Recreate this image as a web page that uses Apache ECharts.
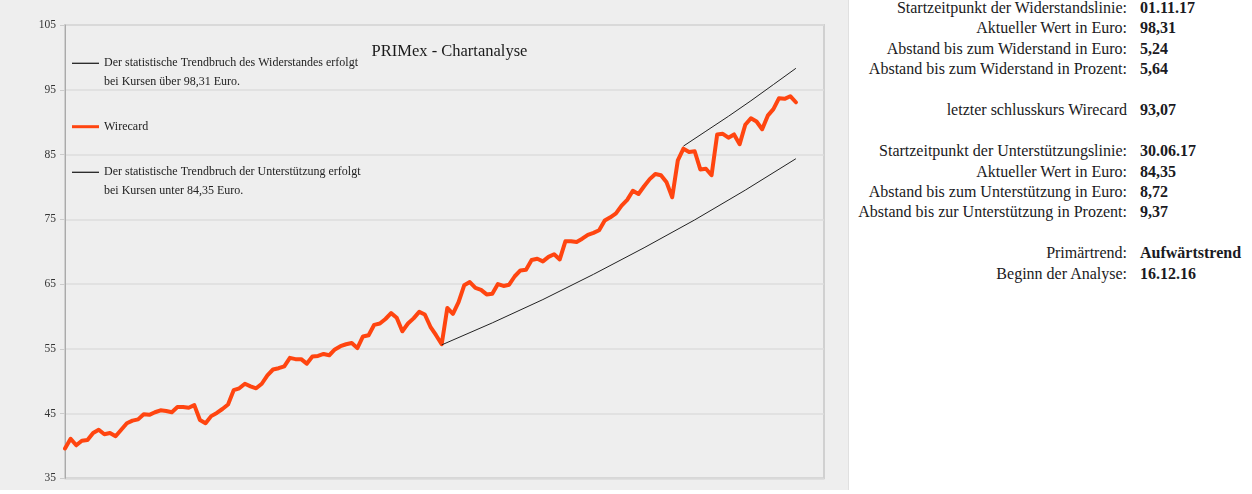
<!DOCTYPE html>
<html>
<head>
<meta charset="utf-8">
<script src="https://cdn.jsdelivr.net/npm/echarts@6/dist/echarts.min.js"></script>
<style>
  html, body { margin: 0; padding: 0; background: #ffffff; }
  #panel { position: absolute; left: 0; top: 0; width: 848px; height: 490px; background: #eeeeee; border-right: 1px solid #e0e0e0; }
  #chart { position: absolute; left: 0; top: 0; width: 848px; height: 490px; }
  #info { position: absolute; left: 850px; top: -2px; font-family: "Liberation Serif", serif; font-size: 16px; color: #1a1a22; }
  #info .row { display: flex; height: 20.45px; line-height: 20.45px; white-space: nowrap; }
  #info .lab { width: 277px; text-align: right; }
  #info .val { margin-left: 13px; font-weight: bold; }
</style>
</head>
<body>
<div id="panel"></div>
<div id="chart"></div>
<div id="info"></div>
<script>
// ---- data ----
const titleText = 'PRIMex - Chartanalyse';
const seriesNames = [
  'Der statistische Trendbruch des Widerstandes erfolgt\nbei Kursen über 98,31 Euro.',
  'Wirecard',
  'Der statistische Trendbruch der Unterstützung erfolgt\nbei Kursen unter 84,35 Euro.'
];
const categoryCount = 136;
const categories = Array.from({length: categoryCount}, (_, i) => String(i));
const yTicks = [35, 45, 55, 65, 75, 85, 95, 105];
const wirecard = [
  39.6, 41.1, 40.1, 40.8, 40.9, 42.0, 42.5, 41.8, 42.0, 41.5,
  42.5, 43.5, 43.9, 44.1, 44.9, 44.8, 45.2, 45.5, 45.4, 45.2,
  46.0, 46.0, 45.9, 46.3, 44.0, 43.5, 44.6, 45.1, 45.7, 46.4,
  48.6, 48.9, 49.6, 49.2, 48.9, 49.6, 50.9, 51.8, 52.0, 52.3,
  53.6, 53.4, 53.4, 52.7, 53.8, 53.9, 54.2, 54.0, 54.9, 55.4,
  55.7, 55.9, 55.1, 56.9, 57.1, 58.7, 58.9, 59.6, 60.5, 59.8,
  57.7, 58.9, 59.7, 60.7, 60.3, 58.4, 57.1, 55.7, 61.3, 60.4,
  62.2, 64.8, 65.3, 64.4, 64.1, 63.4, 63.5, 65.0, 64.7, 64.9,
  66.2, 67.1, 67.2, 68.7, 68.9, 68.5, 69.2, 69.6, 68.8, 71.6,
  71.6, 71.5, 72.0, 72.6, 72.9, 73.3, 74.8, 75.3, 75.9, 77.1,
  78.0, 79.4, 78.9, 80.1, 81.2, 82.0, 81.8, 80.7, 78.4, 84.1,
  85.9, 85.4, 85.5, 82.7, 82.8, 81.8, 88.1, 88.2, 87.6, 88.1,
  86.6, 89.6, 90.6, 90.1, 88.9, 91.0, 92.0, 93.7, 93.6, 94.0,
  93.07
];
const resistanceIdx = [110, 114, 118, 122, 126, 130];
const resistanceVals = [86.3, 88.6, 90.9, 93.3, 95.8, 98.31];
const supportIdx = [67, 76, 85, 94, 103, 112, 121, 130];
const supportVals = [55.6, 59.0, 62.6, 66.5, 70.6, 74.9, 79.5, 84.35];

const infoLabels = [
  'Startzeitpunkt der Widerstandslinie:', 'Aktueller Wert in Euro:', 'Abstand bis zum Widerstand in Euro:', 'Abstand bis zum Widerstand in Prozent:',
  '', 'letzter schlusskurs Wirecard', '',
  'Startzeitpunkt der Unterstützungslinie:', 'Aktueller Wert in Euro:', 'Abstand bis zum Unterstützung in Euro:', 'Abstand bis zur Unterstützung in Prozent:',
  '', 'Primärtrend:', 'Beginn der Analyse:'
];
const infoValues = [
  '01.11.17', '98,31', '5,24', '5,64',
  '', '93,07', '',
  '30.06.17', '84,35', '8,72', '9,37',
  '', 'Aufwärtstrend', '16.12.16'
];

// ---- info panel ----
const info = document.getElementById('info');
infoLabels.forEach((lab, i) => {
  const row = document.createElement('div');
  row.className = 'row';
  const l = document.createElement('span'); l.className = 'lab'; l.textContent = lab;
  const v = document.createElement('span'); v.className = 'val'; v.textContent = infoValues[i];
  row.appendChild(l); row.appendChild(v);
  info.appendChild(row);
});

// ---- chart ----
const FONT = '"Liberation Serif", serif';
const chart = echarts.init(document.getElementById('chart'), null, {renderer: 'canvas'});
const legendText = { fontFamily: FONT, fontSize: 12, color: '#222', lineHeight: 19 };
// a leading blank line keeps the legend line aligned with the first text line
const twoLine = name => '\n' + name;
chart.setOption({
  animation: false,
  title: {
    text: titleText, left: 444.5, top: 47, textAlign: 'center', textVerticalAlign: 'middle',
    textStyle: { fontFamily: FONT, fontSize: 16.5, fontWeight: 'normal', color: '#1a1a1a' }
  },
  legend: [
    { data: [seriesNames[0]], orient: 'vertical', left: 72, top: 34.8, padding: 0,
      itemWidth: 27, itemHeight: 1.3, icon: 'rect', selectedMode: false,
      formatter: twoLine, textStyle: legendText },
    { data: [seriesNames[1]], orient: 'vertical', left: 72, top: 117.2, padding: 0,
      itemWidth: 27, itemHeight: 3, icon: 'rect', selectedMode: false,
      textStyle: legendText },
    { data: [seriesNames[2]], orient: 'vertical', left: 72, top: 143.8, padding: 0,
      itemWidth: 27, itemHeight: 1.3, icon: 'rect', selectedMode: false,
      formatter: twoLine, textStyle: legendText }
  ],
  grid: {
    left: 65, right: 24, top: 25, bottom: 11.7,
    show: true, backgroundColor: '#eeeeee', borderColor: '#d0d0d0', borderWidth: 2
  },
  xAxis: {
    type: 'category', data: categories, boundaryGap: false,
    axisLine: { show: false }, axisTick: { show: false }, axisLabel: { show: false },
    splitLine: { show: false }
  },
  yAxis: {
    type: 'value', min: yTicks[0], max: yTicks[yTicks.length - 1], interval: 10,
    axisLine: { show: true, lineStyle: { color: '#aaaaaa', width: 1 } },
    axisTick: { show: true, length: 5, lineStyle: { color: '#cccccc' } },
    axisLabel: { fontFamily: FONT, fontSize: 11.5, color: '#333', margin: 9 },
    splitLine: { show: true, lineStyle: { color: '#dcdcdc', width: 1.5 } }
  },
  series: [
    {
      name: seriesNames[0], type: 'line', showSymbol: false, symbol: 'none',
      data: resistanceIdx.map((x, k) => [x, resistanceVals[k]]),
      lineStyle: { color: '#222', width: 1 }, itemStyle: { color: '#222' }, z: 3
    },
    {
      name: seriesNames[1], type: 'line', showSymbol: false, symbol: 'none',
      data: wirecard,
      lineStyle: { color: '#ff4510', width: 4, cap: 'round', join: 'round' }, itemStyle: { color: '#ff4510' }, z: 2
    },
    {
      name: seriesNames[2], type: 'line', showSymbol: false, symbol: 'none',
      data: supportIdx.map((x, k) => [x, supportVals[k]]),
      lineStyle: { color: '#222', width: 1 }, itemStyle: { color: '#222' }, z: 3
    }
  ]
});
</script>
</body>
</html>
